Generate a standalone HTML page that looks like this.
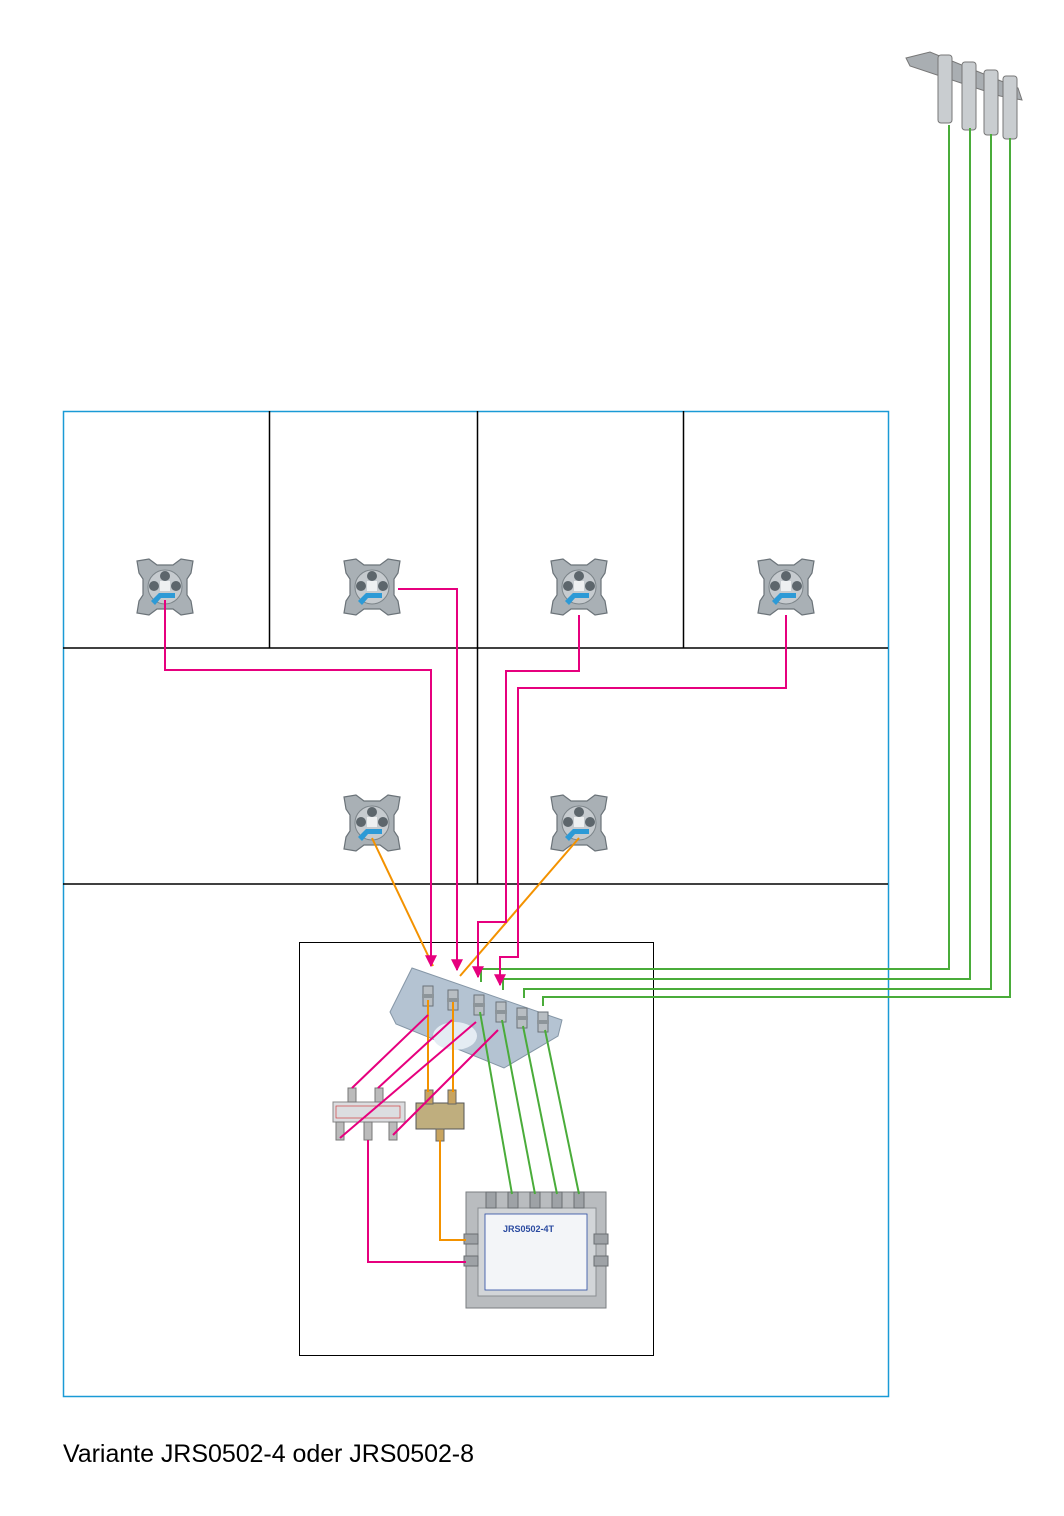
<!DOCTYPE html>
<html><head><meta charset="utf-8"><style>
html,body{margin:0;padding:0;background:#fff}
svg{display:block}
</style></head><body>
<svg width="1064" height="1516" viewBox="0 0 1064 1516" xmlns="http://www.w3.org/2000/svg">
<defs>
<marker id="ah" viewBox="0 0 10 10" refX="9" refY="5" markerWidth="6" markerHeight="6" orient="auto"><path d="M0,0 L10,5 L0,10 z" fill="#e6007e"/></marker>
<g id="sock">
<path d="M-28,-26 L-16,-28 L-8,-22 L8,-22 L16,-28 L28,-26 L26,-14 L22,-8 L22,8 L26,14 L28,26 L16,28 L8,22 L-8,22 L-16,28 L-28,26 L-26,14 L-22,8 L-22,-8 L-26,-14 z" fill="#a9b0b5" stroke="#6b7379" stroke-width="1.2"/>
<circle cx="0" cy="0" r="17" fill="#c6cbcf" stroke="#7c8489"/>
<circle cx="-11" cy="-1" r="5" fill="#5d666c"/><circle cx="11" cy="-1" r="5" fill="#5d666c"/>
<circle cx="0" cy="-11" r="5" fill="#5d666c"/>
<rect x="-5" y="-6" width="10" height="10" fill="#eef0f1"/>
<path d="M-14,14 L-6,6 L10,6 L10,11 L-4,11 L-10,18 z" fill="#2d9ad6"/>
</g>
<g id="port"><rect x="-5" y="-10" width="10" height="20" fill="#b8bec3" stroke="#6a7278"/><rect x="-6" y="-2" width="12" height="4" fill="#8d959a"/></g>
</defs>

<g>
<path d="M906,58 L930,52 L1018,88 L1022,100 L1000,96 L910,66 z" fill="#a9aeb2" stroke="#777"/>
<rect x="938" y="55" width="14" height="68" rx="3" fill="#c9cdd0" stroke="#777"/>
<rect x="962" y="62" width="14" height="68" rx="3" fill="#c9cdd0" stroke="#777"/>
<rect x="984" y="70" width="14" height="65" rx="3" fill="#c9cdd0" stroke="#777"/>
<rect x="1003" y="76" width="14" height="63" rx="3" fill="#c9cdd0" stroke="#777"/>
</g>

<rect x="63.5" y="411.5" width="825" height="985" fill="none" stroke="#1a9ad6" stroke-width="1.5"/>
<g stroke="#000" stroke-width="1.5">
<line x1="63" y1="648" x2="888" y2="648"/>
<line x1="63" y1="884" x2="888" y2="884"/>
<line x1="269.5" y1="411" x2="269.5" y2="648"/>
<line x1="477.5" y1="411" x2="477.5" y2="884"/>
<line x1="683.5" y1="411" x2="683.5" y2="648"/>
</g>
<rect x="299.5" y="942.5" width="354" height="413" fill="none" stroke="#000" stroke-width="1"/>

<use href="#sock" x="165" y="587"/><use href="#sock" x="372" y="587"/>
<use href="#sock" x="579" y="587"/><use href="#sock" x="786" y="587"/>
<use href="#sock" x="372" y="823"/><use href="#sock" x="579" y="823"/>

<path d="M412,968 L562,1020 L558,1036 L504,1068 L396,1024 L390,1012 z" fill="#b4c3d2" stroke="#8596a6"/>
<ellipse cx="455" cy="1036" rx="22" ry="14" fill="#e4ecf3"/>
<use href="#port" x="428" y="996"/><use href="#port" x="453" y="1000"/>
<use href="#port" x="479" y="1005"/><use href="#port" x="501" y="1012"/>
<use href="#port" x="522" y="1018"/><use href="#port" x="543" y="1022"/>

<rect x="333" y="1102" width="72" height="20" fill="#dcdde0" stroke="#888"/>
<rect x="336" y="1106" width="64" height="12" fill="none" stroke="#d04040" stroke-width="0.7"/>
<rect x="348" y="1088" width="8" height="14" fill="#bbb" stroke="#777"/><rect x="375" y="1088" width="8" height="14" fill="#bbb" stroke="#777"/>
<rect x="336" y="1122" width="8" height="18" fill="#bbb" stroke="#777"/><rect x="364" y="1122" width="8" height="18" fill="#bbb" stroke="#777"/><rect x="389" y="1122" width="8" height="18" fill="#bbb" stroke="#777"/>
<rect x="416" y="1103" width="48" height="26" fill="#bfae7e" stroke="#555"/>
<rect x="425" y="1090" width="8" height="14" fill="#c8a460" stroke="#666"/><rect x="448" y="1090" width="8" height="14" fill="#c8a460" stroke="#666"/>
<rect x="436" y="1129" width="8" height="12" fill="#c8a460" stroke="#666"/>

<rect x="466" y="1192" width="140" height="116" fill="#b9bcbf" stroke="#7a7e82"/>
<rect x="478" y="1208" width="118" height="88" fill="#d2d5d8" stroke="#8a8e92"/>
<rect x="485" y="1214" width="102" height="76" fill="#f3f5f8" stroke="#2a4aa0" stroke-width="0.8"/>
<text x="503" y="1232" font-family="Liberation Sans, sans-serif" font-size="9" font-weight="bold" fill="#2a4aa0">JRS0502-4T</text>
<g fill="#9ea2a6" stroke="#6a6e72"><rect x="486" y="1192" width="10" height="16"/><rect x="508" y="1192" width="10" height="16"/><rect x="530" y="1192" width="10" height="16"/><rect x="552" y="1192" width="10" height="16"/><rect x="574" y="1192" width="10" height="16"/>
<rect x="464" y="1234" width="14" height="10"/><rect x="464" y="1256" width="14" height="10"/><rect x="594" y="1234" width="14" height="10"/><rect x="594" y="1256" width="14" height="10"/></g>

<g fill="none" stroke-width="2">
<g stroke="#4aac3a">
<polyline points="949,125 949,969 481,969 481,982"/>
<polyline points="970,128 970,979 503,979 503,990"/>
<polyline points="991,134 991,989 524,989 524,998"/>
<polyline points="1010,138 1010,997 543,997 543,1006"/>
<line x1="480" y1="1012" x2="512" y2="1194"/>
<line x1="502" y1="1020" x2="535" y2="1194"/>
<line x1="523" y1="1026" x2="557" y2="1194"/>
<line x1="545" y1="1030" x2="579" y2="1194"/>
</g>
<g stroke="#f39200">
<line x1="372" y1="838" x2="433" y2="966"/>
<line x1="579" y1="838" x2="460" y2="976"/>
<line x1="428" y1="1000" x2="428" y2="1092"/>
<line x1="453" y1="1002" x2="453" y2="1092"/>
<polyline points="440,1140 440,1240 466,1240"/>
</g>
<g stroke="#e6007e">
<polyline points="165,600 165,670 431,670 431,966" marker-end="url(#ah)"/>
<polyline points="398,589 457,589 457,970" marker-end="url(#ah)"/>
<polyline points="579,615 579,671 506,671 506,922 478,922 478,977" marker-end="url(#ah)"/>
<polyline points="786,615 786,688 518,688 518,957 500,957 500,985" marker-end="url(#ah)"/>
<line x1="428" y1="1015" x2="352" y2="1088"/>
<line x1="452" y1="1020" x2="378" y2="1088"/>
<line x1="476" y1="1022" x2="340" y2="1138"/>
<line x1="498" y1="1030" x2="393" y2="1135"/>
<polyline points="368,1140 368,1262 466,1262"/>
</g>
</g>

<text x="63" y="1462" font-family="Liberation Sans, Arial, sans-serif" font-size="25" fill="#000" textLength="411">Variante JRS0502-4 oder JRS0502-8</text>
</svg>
</body></html>
